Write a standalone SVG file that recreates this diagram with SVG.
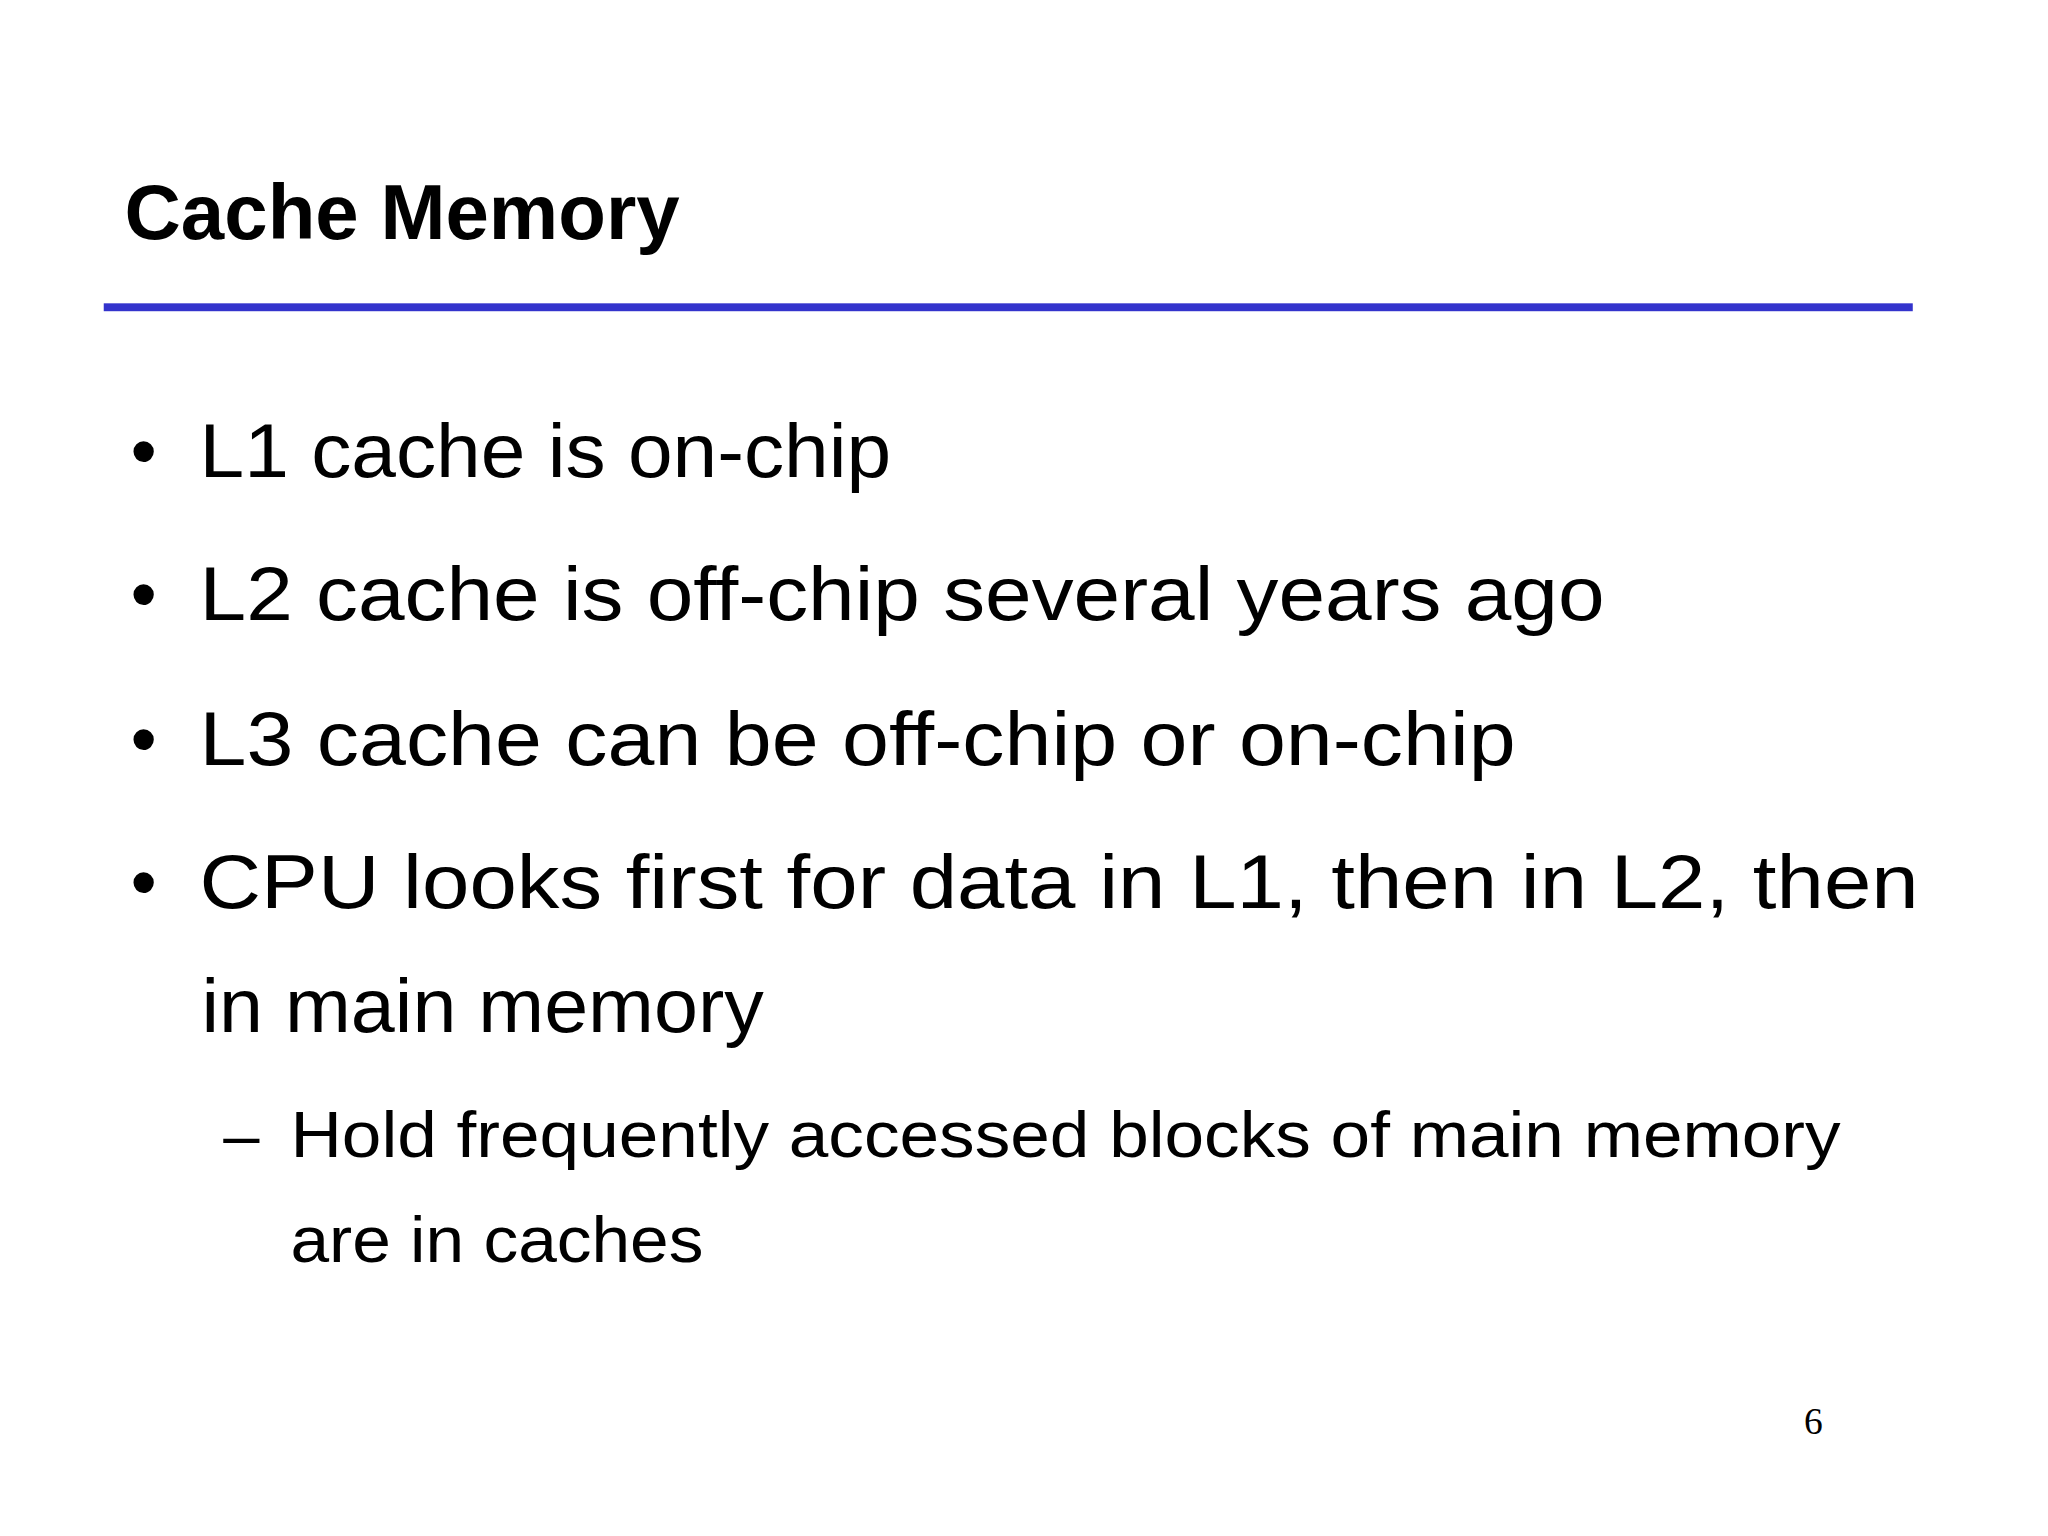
<svg xmlns="http://www.w3.org/2000/svg" width="2048" height="1536" viewBox="0 0 2048 1536">
<style>
.t{font-family:"Liberation Sans",Arial,sans-serif;fill:#000}
.b{font-size:76px}
.s{font-size:66px}
</style>
<rect width="2048" height="1536" fill="#fff"/>
<g transform="scale(0.988)">
<g id="title"><text class="t" x="126" y="242" font-size="78" font-weight="bold" textLength="562" lengthAdjust="spacingAndGlyphs">Cache Memory</text></g>
<g id="rule"><rect x="105" y="307" width="1831" height="8" fill="#3333cc"/></g>
<g id="bullets">
<text class="t b" x="132" y="483">•</text>
<text class="t b" x="202" y="483" textLength="700" lengthAdjust="spacingAndGlyphs">L1 cache is on-chip</text>
<text class="t b" x="132" y="628">•</text>
<text class="t b" x="202" y="628" textLength="1422" lengthAdjust="spacingAndGlyphs">L2 cache is off-chip several years ago</text>
<text class="t b" x="132" y="774">•</text>
<text class="t b" x="202" y="774" textLength="1332" lengthAdjust="spacingAndGlyphs">L3 cache can be off-chip or on-chip</text>
<text class="t b" x="132" y="919">•</text>
<text class="t b" x="202" y="919" textLength="1740" lengthAdjust="spacingAndGlyphs">CPU looks first for data in L1, then in L2, then</text>
<text class="t b" x="204" y="1045" textLength="569" lengthAdjust="spacingAndGlyphs">in main memory</text>
<text class="t s" x="226" y="1171">–</text>
<text class="t s" x="294" y="1171" textLength="1569" lengthAdjust="spacingAndGlyphs">Hold frequently accessed blocks of main memory</text>
<text class="t s" x="294" y="1277" textLength="418" lengthAdjust="spacingAndGlyphs">are in caches</text>
</g>
<g id="page"><text x="1826" y="1451" font-family="Liberation Serif,serif" font-size="38" fill="#000">6</text></g>
</g>
</svg>
